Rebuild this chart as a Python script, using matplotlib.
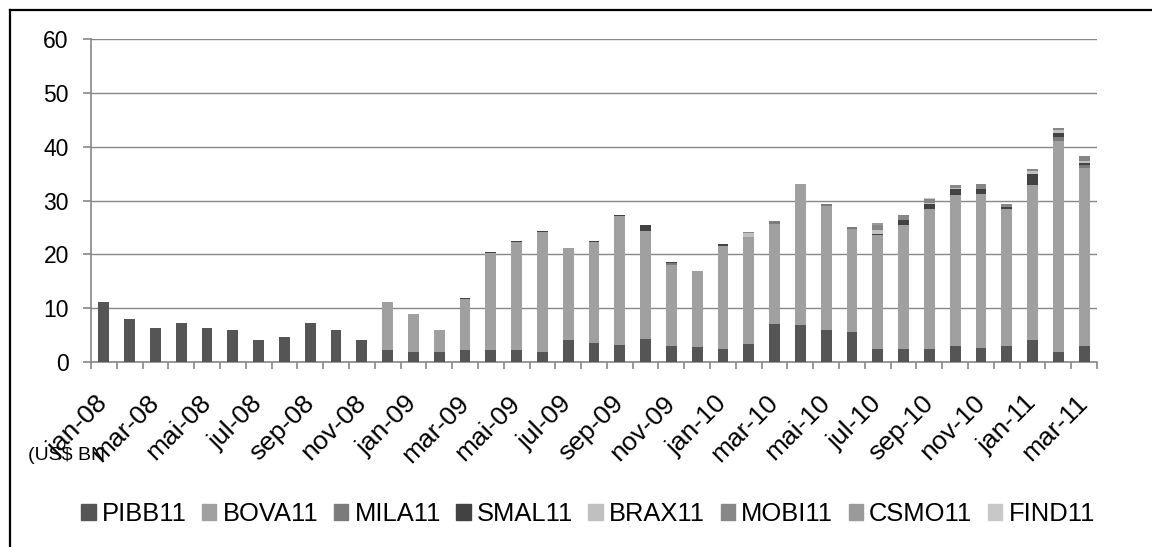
import matplotlib
matplotlib.use("Agg")
import matplotlib.pyplot as plt
import numpy as np
from matplotlib.patches import Patch

# -----------------------------------------------------
# GLOBAL STYLE
# -----------------------------------------------------
plt.rcParams.update({
    "font.family": "Liberation Sans",
    "xtick.labelsize": 19,
    "ytick.labelsize": 16.5,
})

# -----------------------------------------------------
# DATA (US$ BN, monthly, jan-08 .. mar-11)
# -----------------------------------------------------
tick_labels = ["jan-08", "mar-08", "mai-08", "jul-08", "sep-08", "nov-08",
               "jan-09", "mar-09", "mai-09", "jul-09", "sep-09", "nov-09",
               "jan-10", "mar-10", "mai-10", "jul-10", "sep-10", "nov-10",
               "jan-11", "mar-11"]

PIBB = [11.2, 7.9, 6.4, 7.3, 6.4, 6.0, 4.1, 4.7, 7.3, 6.0,
        4.1, 2.3, 1.9, 1.9, 2.3, 2.3, 2.3, 1.9, 4.0, 3.6,
        3.25, 4.2, 3.05, 2.7, 2.5, 3.4, 7.0, 6.9, 5.95, 5.6,
        2.4, 2.4, 2.4, 3.0, 2.6, 3.0, 4.1, 1.85, 3.0]
BOVA = [0, 0, 0, 0, 0, 0, 0, 0, 0, 0,
        0, 8.8, 7.1, 4.1, 9.45, 18.0, 19.95, 22.2, 17.25, 18.65,
        23.85, 20.2, 15.0, 14.2, 19.1, 19.9, 18.7, 26.1, 22.95, 19.05,
        21.25, 23.1, 26.1, 28.1, 28.7, 25.5, 28.7, 39.15, 33.1]
MILA = [0, 0, 0, 0, 0, 0, 0, 0, 0, 0,
        0, 0, 0, 0, 0, 0, 0, 0, 0, 0,
        0, 0, 0.35, 0, 0, 0, 0.4, 0, 0.5, 0.5,
        0, 0, 0, 0, 0, 0, 0, 0.75, 0.55]
SMAL = [0, 0, 0, 0, 0, 0, 0, 0, 0, 0,
        0, 0.1, 0, 0, 0.15, 0.2, 0.2, 0.3, 0, 0.15,
        0.15, 1.0, 0.2, 0, 0.35, 0, 0, 0, 0, 0,
        0.2, 0.8, 0.9, 1.1, 0.75, 0.2, 2.2, 0.75, 0.4]
BRAX = [0, 0, 0, 0, 0, 0, 0, 0, 0, 0,
        0, 0, 0, 0, 0, 0, 0, 0, 0, 0,
        0, 0, 0, 0, 0, 0.7, 0, 0, 0, 0,
        0.75, 0.1, 0.2, 0.2, 0, 0, 0.4, 0.55, 0.35]
MOBI = [0, 0, 0, 0, 0, 0, 0, 0, 0, 0,
        0, 0, 0, 0, 0, 0, 0, 0, 0, 0,
        0, 0, 0, 0, 0, 0.1, 0, 0, 0, 0,
        0.9, 0.85, 0.75, 0.4, 1.1, 0.7, 0.4, 0.4, 0.9]
CSMO = [0, 0, 0, 0, 0, 0, 0, 0, 0, 0,
        0, 0, 0, 0, 0, 0, 0, 0, 0, 0,
        0, 0, 0, 0, 0, 0, 0, 0, 0, 0,
        0.35, 0, 0, 0, 0, 0, 0, 0, 0]
FIND = [0, 0, 0, 0, 0, 0, 0, 0, 0, 0,
        0, 0, 0, 0, 0, 0, 0, 0, 0, 0,
        0, 0, 0, 0, 0, 0, 0, 0, 0, 0,
        0, 0, 0.1, 0, 0, 0, 0, 0, 0]

series = [
    ("PIBB11", PIBB, "#555555"),
    ("BOVA11", BOVA, "#a0a0a0"),
    ("MILA11", MILA, "#7b7b7b"),
    ("SMAL11", SMAL, "#424242"),
    ("BRAX11", BRAX, "#c0c0c0"),
    ("MOBI11", MOBI, "#878787"),
    ("CSMO11", CSMO, "#9a9a9a"),
    ("FIND11", FIND, "#c8c8c8"),
]

x = np.arange(len(PIBB))
width = 0.42
grey = "#878787"

fig = plt.figure(figsize=(11.52, 5.47), dpi=100)
ax = fig.add_axes([91 / 1152, 1 - 362 / 547, 1006 / 1152, 323 / 547])

bottom = np.zeros(len(x))
for name, vals, col in series:
    vals = np.array(vals, dtype=float)
    ax.bar(x, vals, width, bottom=bottom, color=col, label=name, zorder=3)
    bottom += vals

ax.set_xlim(-0.5, len(x) - 0.5)
ax.set_ylim(0, 60)
ax.set_yticks(np.arange(0, 61, 10))
ax.grid(axis="y", color=grey, linewidth=1.0, zorder=0)

# category boundary ticks + labels every other month
ax.set_xticks(x[::2])
ax.set_xticklabels(tick_labels, rotation=45, ha="right", va="center",
                   rotation_mode="anchor")
ax.set_xticks(np.arange(-0.5, len(x), 1), minor=True)
ax.tick_params(axis="x", which="major", length=0, pad=27)
ax.tick_params(axis="x", which="minor", length=5, width=1.2, color=grey)
ax.tick_params(axis="y", length=6, width=1.2, color=grey, pad=10)

for s in ["top", "right"]:
    ax.spines[s].set_visible(False)
for s in ["left", "bottom"]:
    ax.spines[s].set_color(grey)
    ax.spines[s].set_linewidth(1.2)

fig.text(28 / 1152, 1 - 456 / 547, "(US$ BN", fontsize=14,
         ha="left", va="center")

# -----------------------------------------------------
# LEGEND
# -----------------------------------------------------
handles = [Patch(color=col, label=name) for name, vals, col in series]
fig.legend(handles=handles, loc="center", ncol=8, frameon=False,
           bbox_to_anchor=(588 / 1152, 1 - 514 / 547), fontsize=18.4,
           handlelength=0.56, handleheight=0.56, handletextpad=0.25,
           columnspacing=0.6)

# outer chart frame (only left and top edges fall inside the picture)
fig.add_artist(plt.Line2D([10 / 1152, 10 / 1152], [0, 1 - 10 / 547],
                          transform=fig.transFigure, color="black", linewidth=1.6))
fig.add_artist(plt.Line2D([10 / 1152, 1], [1 - 10 / 547, 1 - 10 / 547],
                          transform=fig.transFigure, color="black", linewidth=1.6))

plt.savefig("out.png", dpi=100)
